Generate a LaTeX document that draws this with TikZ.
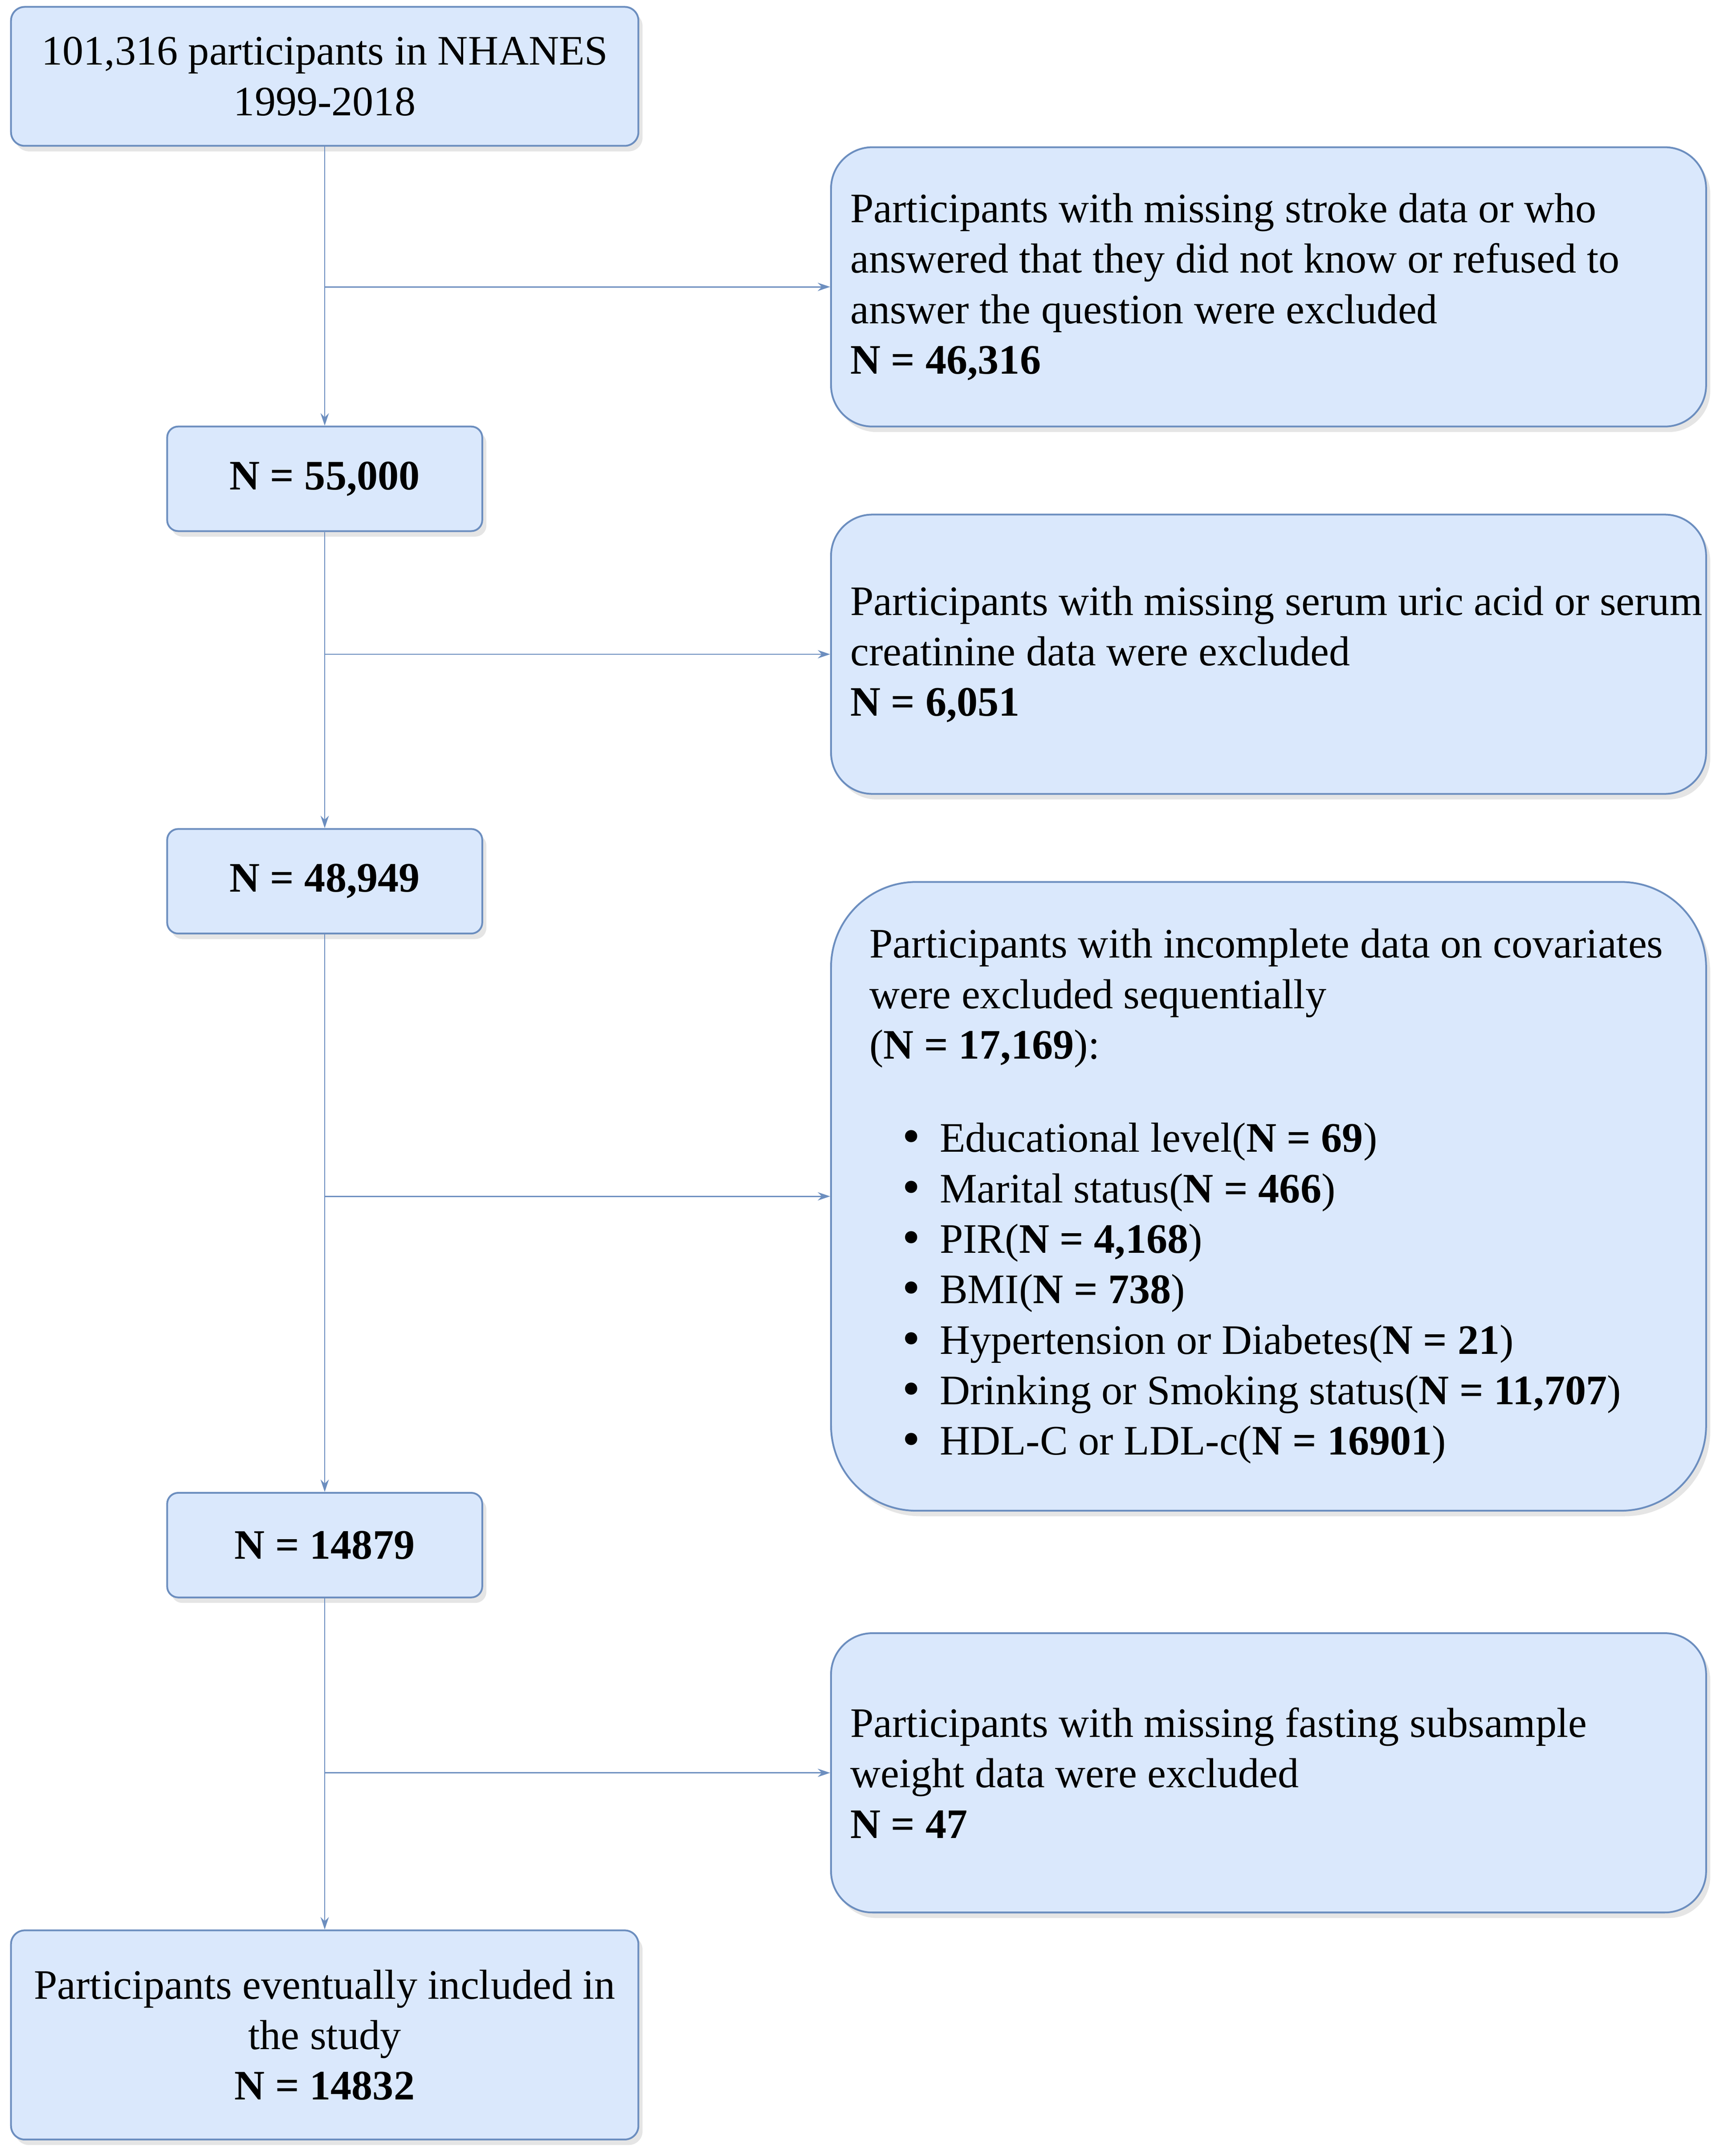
\documentclass[tikz,border=0pt]{standalone}
\usepackage{fontspec}
\setmainfont{Liberation Serif}
\newfontfamily\bulfont{DejaVu Sans}
\usetikzlibrary{arrows.meta,shadows}
\definecolor{boxfill}{RGB}{218,232,252}
\definecolor{boxline}{RGB}{108,142,191}
\newcommand{\itembul}{\hspace*{21.5pt}\makebox[29.5pt][l]{\bulfont •}}

\begin{document}
\begin{tikzpicture}[x=1pt, y=-1pt, >={Stealth[length=9pt,width=6pt]},
	box/.style={draw=boxline, fill=boxfill, line width=1.3pt, inner sep=0pt,
		font=\fontsize{30.5pt}{36.7pt}\selectfont,
		drop shadow={shadow xshift=3pt, shadow yshift=-4pt, opacity=0.2}},
	mainbox/.style={box, rounded corners=10pt, align=flush center, text width=440pt, minimum width=456pt},
	nbox/.style={box, rounded corners=8pt, minimum width=229pt, minimum height=76pt,
		font=\fontsize{30.5pt}{36.7pt}\selectfont\bfseries},
	exclbox/.style={box, rounded corners=30pt, minimum height=203pt, text width=608pt, inner xsep=14pt, align=flush left},
	link/.style={draw=boxline, line width=0.9pt, ->}]

	% page
	\fill[white] (0,0) rectangle (1250,1567);
	\useasboundingbox (0,0) rectangle (1250,1567);

	% main column
	\node[mainbox, minimum height=101pt] (start) at (236,55.5) {101,316 participants in NHANES\\1999-2018};
	\node[nbox] (n1) at (236,348) {N = 55,000};
	\node[nbox] (n2) at (236,640.5) {N = 48,949};
	\node[nbox] (n3) at (236,1123) {N = 14879};
	\node[mainbox, minimum height=152pt] (final) at (236,1479) {Participants eventually included in\\the study\\\textbf{N = 14832}};

	% exclusions
	\node[exclbox] (ex1) at (922,208.5) {Participants with missing stroke data or who\\answered that they did not know or refused to\\answer the question were excluded\\\textbf{N = 46,316}};
	\node[exclbox] (ex2) at (922,475.5) {\mbox{Participants with missing serum uric acid or serum}\\creatinine data were excluded\\\textbf{N = 6,051}};
	\node[exclbox, rounded corners=62pt, minimum height=457pt, text width=580pt, inner xsep=28pt] (ex3) at (922,869.5)
		{\mbox{Participants with incomplete data on covariates}\\were excluded sequentially\\(\textbf{N = 17,169}):\\[31pt]
		\itembul Educational level(\textbf{N = 69})\\
		\itembul Marital status(\textbf{N = 466})\\
		\itembul PIR(\textbf{N = 4,168})\\
		\itembul BMI(\textbf{N = 738})\\
		\itembul Hypertension or Diabetes(\textbf{N = 21})\\
		\itembul Drinking or Smoking status(\textbf{N = 11,707})\\
		\itembul HDL-C or LDL-c(\textbf{N = 16901})};
	\node[exclbox] (ex4) at (922,1288.5) {Participants with missing fasting subsample\\weight data were excluded\\\textbf{N = 47}};

	% connectors
	\foreach \a/\b in {start/n1, n1/n2, n2/n3, n3/final}
		\draw[link] (\a) -- (\b);
	\foreach \a/\b [count=\i] in {start/ex1, n1/ex2, n2/ex3, n3/ex4} {
		\coordinate (br\i) at (\a.south |- \b.west);
		\draw[link] (br\i) -- (\b.west);
	}

\end{tikzpicture}
\end{document}
